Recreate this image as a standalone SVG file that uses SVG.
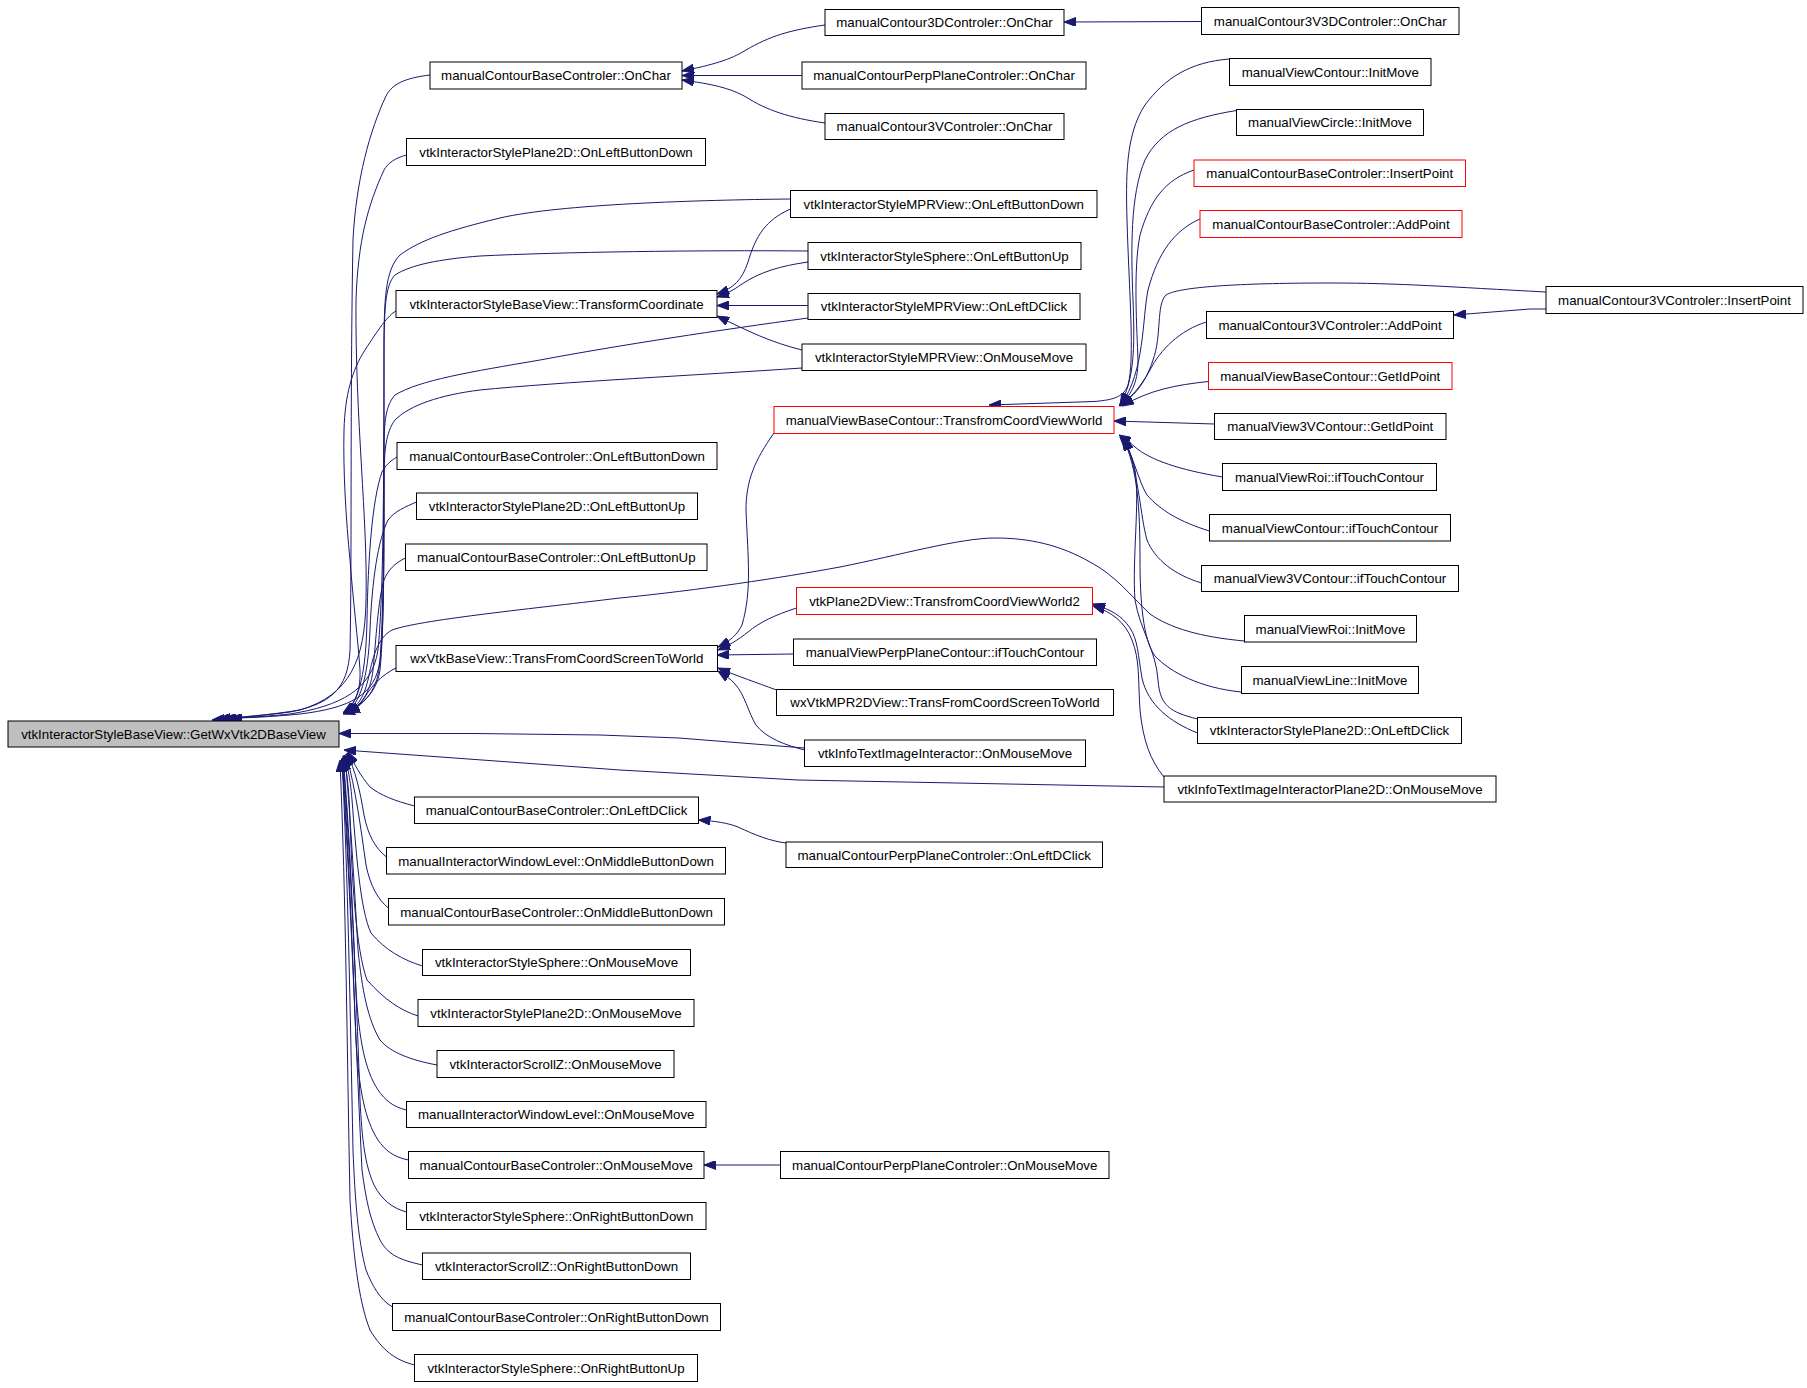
<svg xmlns="http://www.w3.org/2000/svg" width="1807" height="1388" viewBox="0 0 1807 1388">
<defs>
<marker id="ah" viewBox="0 0 12 9" refX="12" refY="4.5" markerWidth="12" markerHeight="9" markerUnits="userSpaceOnUse" orient="auto"><path d="M0,0 L12,4.5 L0,9 z" fill="#191970" stroke="#191970" stroke-width="1"/></marker>
</defs>
<style>
.n rect{fill:#ffffff;stroke:#000000;stroke-width:1}
.n.r rect{stroke:#ff0000}
.n.m rect{fill:#bfbfbf}
.n text{font-family:"Liberation Sans",Arial,sans-serif;font-size:13.3px;text-anchor:middle;fill:#000000}
.e path{fill:none;stroke:#191970;stroke-width:1;marker-end:url(#ah)}
</style>
<rect x="0" y="0" width="1807" height="1388" fill="#ffffff"/>
<g id="connectors" class="e">
<path d="M1201.5,21.5 L1064,22"/>
<path d="M825,25 C790,30 770,36 746,50 C730,60 712,65 682,71"/>
<path d="M802,75.5 L682,75.5"/>
<path d="M825,123 C790,118 766,110 746,97 C730,88 712,84 682,80"/>
<path d="M790.5,209 C766,220 756,235 748,262 C742,280 734,288 717,294"/>
<path d="M808,262 C780,266 760,272 742,284 C732,291 726,294 717,297"/>
<path d="M808,305.5 L717,305.5"/>
<path d="M802,350 C770,342 750,332 717,316"/>
<path d="M774,433 C755,460 746,480 746,510 C748,560 752,590 742,625 C737,635 730,641 718,647"/>
<path d="M796.5,608 C775,615 760,622 748,632 C738,640 728,646 718,650"/>
<path d="M793.5,654 L717,655"/>
<path d="M776.5,690 C755,682 740,677 718,668"/>
<path d="M804.5,750 C785,745 766,738 756,725 C748,712 745,695 735,684 C730,678 724,675 718,671"/>
<path d="M1546,309 L1530,309 L1454,315"/>
<path d="M1229.5,59 C1190,62 1165,78 1145,105 C1125,135 1126,180 1127,220 C1129,290 1135,360 1128,385 C1124,396 1115,400 1094,401.5 L989,405"/>
<path d="M1236.5,110.5 C1190,118 1160,130 1145,160 C1130,195 1131,250 1133,300 C1135,350 1134,380 1120,405"/>
<path d="M1194,170 C1165,180 1150,200 1140,235 C1133,270 1137,330 1138,360 C1138,385 1130,396 1119,406"/>
<path d="M1200,219 C1175,230 1158,252 1148,290 C1142,320 1145,370 1121,405"/>
<path d="M1546,292 C1450,287 1400,283 1330,283 C1250,283 1180,286 1166,295 C1156,305 1162,335 1153,360 C1145,385 1132,398 1120,405"/>
<path d="M1206.5,322 C1180,330 1160,350 1150,370 C1140,388 1130,398 1120,406"/>
<path d="M1208.5,381.5 C1175,385 1150,390 1122,406"/>
<path d="M1214.5,424 L1114,421"/>
<path d="M1222.5,477 C1180,470 1150,460 1135,447 C1128,441 1124,438 1119,435"/>
<path d="M1209.5,531 C1180,522 1160,510 1147,495 C1138,480 1135,460 1122,437"/>
<path d="M1201.5,583 C1175,575 1155,560 1147,540 C1140,515 1140,480 1125,438"/>
<path d="M1241.5,692 C1200,688 1170,672 1155,656 C1143,640 1140,600 1140,560 C1140,510 1138,470 1123,438"/>
<path d="M1197.5,719 C1170,712 1160,706 1158,680 C1156,650 1140,630 1135,600 C1132,560 1140,500 1135,470 C1132,455 1128,446 1120,437"/>
<path d="M1197.5,733 C1170,722 1148,705 1142,678 C1138,655 1138,640 1130,628 C1122,616 1112,610 1093,604"/>
<path d="M1164,777 C1150,760 1143,740 1140,710 C1138,680 1140,660 1132,640 C1125,622 1112,612 1093,606"/>
<path d="M430,75 C405,78 392,84 386,96 C370,130 356,180 353,240 C350,400 352,560 350,650 C348,690 330,704 290,712 C260,716 235,718 212,720"/>
<path d="M406.5,155 C395,158 388,163 384,170 C368,205 358,240 356,300 C355,420 368,520 366,600 C365,660 350,695 300,710 C270,715 240,717 218,719"/>
<path d="M790.5,199 C700,200 560,204 500,218 C450,230 420,240 400,255 C385,270 384,300 384,350 C384,500 383,600 378,650 C372,690 340,706 290,714 C260,717 240,718 224,718"/>
<path d="M808,251 C700,250 560,252 480,256 C440,259 410,265 395,275 C385,285 384,310 384,360 C384,500 384,610 380,660 C376,695 350,708 300,714 C270,717 245,718 230,718"/>
<path d="M808,318 C720,330 620,345 540,360 C470,372 420,380 395,395 C386,405 384,420 384,450 C384,560 384,630 380,670 C376,698 355,708 345,712"/>
<path d="M802,368 C700,375 560,382 480,390 C440,395 410,405 395,420 C386,432 384,450 384,480 C384,580 384,640 378,675 C372,700 355,710 343,714"/>
<path d="M396,311 C388,315 378,330 365,350 C352,370 345,395 344,430 C343,470 346,520 350,560 C353,600 358,640 360,670 C361,695 352,707 343,713"/>
<path d="M397,457 C390,461 385,466 382,472 C372,500 368,560 367,620 C366,670 360,700 345,714"/>
<path d="M416.5,502 C405,507 395,511 388,520 C378,540 372,580 370,630 C368,680 360,702 346,714"/>
<path d="M405.5,558 C395,563 388,570 384,580 C378,600 376,640 373,670 C370,695 360,706 347,713"/>
<path d="M396,668 C382,675 372,685 365,697 C360,705 355,710 348,713"/>
<path d="M1244.5,641 C1200,637 1170,628 1150,614 C1130,595 1115,575 1090,562 C1060,545 1030,538 995,538 C960,538 900,555 840,567 C780,578 700,590 620,598 C520,610 420,620 392,630 C377,638 372,660 368,680 C363,700 356,708 345,713"/>
<path d="M804.5,748 L679,738 L600,735 L474,733.5 L339,733.5"/>
<path d="M1164,787 L956,783 L798,780 L620,770 L344,750"/>
<path d="M414.5,806 C395,801 380,795 370,787 C360,775 355,765 348,752"/>
<path d="M386.5,857 C375,848 368,835 364,815 C360,790 355,770 347,753"/>
<path d="M388.5,908 C378,900 370,885 366,865 C361,830 356,790 346,754"/>
<path d="M422.5,966 C403,960 385,950 371,933 C360,910 356,850 352,800 C350,775 347,765 344,755"/>
<path d="M418,1016 C400,1010 385,1000 367,980 C356,950 352,880 350,820 C349,790 347,770 343,756"/>
<path d="M437,1065 C410,1060 390,1052 380,1040 C368,1020 362,990 358,950 C354,880 350,810 345,757"/>
<path d="M406.5,1110 C393,1107 385,1100 378,1090 C365,1070 359,1040 356,990 C352,900 349,820 343,758"/>
<path d="M408.5,1160 C393,1157 385,1150 378,1140 C365,1120 359,1090 356,1040 C352,940 348,830 342,758"/>
<path d="M406.5,1212 C392,1208 382,1200 374,1185 C365,1165 362,1140 360,1100 C356,980 350,850 343,759"/>
<path d="M422.5,1265 C400,1260 388,1255 380,1240 C370,1220 366,1200 362,1170 C356,1050 350,880 342,760"/>
<path d="M392.5,1307 C380,1300 372,1285 366,1270 C358,1240 355,1200 353,1150 C350,1000 348,880 342,760"/>
<path d="M414.5,1365 C395,1360 382,1350 370,1330 C358,1300 353,1250 350,1200 C347,1050 346,900 340,760"/>
<path d="M786,843 C770,841 755,835 738,827 C728,823 715,821 698.5,820"/>
<path d="M780.5,1165 L704,1165"/>
</g>
<g id="n_main" class="n m"><rect x="8" y="721" width="331" height="26"/><text x="173.5" y="738.7">vtkInteractorStyleBaseView::GetWxVtk2DBaseView</text></g>
<g id="a1" class="n"><rect x="430" y="62" width="252" height="27"/><text x="556" y="80.2">manualContourBaseControler::OnChar</text></g>
<g id="a2" class="n"><rect x="406.5" y="138.5" width="299" height="27"/><text x="556" y="156.7">vtkInteractorStylePlane2D::OnLeftButtonDown</text></g>
<g id="a3" class="n"><rect x="396" y="290.5" width="321" height="27"/><text x="556.5" y="308.7">vtkInteractorStyleBaseView::TransformCoordinate</text></g>
<g id="a4" class="n"><rect x="397" y="442.5" width="320" height="27"/><text x="557" y="460.7">manualContourBaseControler::OnLeftButtonDown</text></g>
<g id="a5" class="n"><rect x="416.5" y="493" width="281" height="26.5"/><text x="557" y="511">vtkInteractorStylePlane2D::OnLeftButtonUp</text></g>
<g id="a6" class="n"><rect x="405.5" y="544" width="301.5" height="26.5"/><text x="556.25" y="562">manualContourBaseControler::OnLeftButtonUp</text></g>
<g id="a7" class="n"><rect x="396" y="645.5" width="321.5" height="26"/><text x="556.75" y="663.2">wxVtkBaseView::TransFromCoordScreenToWorld</text></g>
<g id="a8" class="n"><rect x="414.5" y="797" width="284" height="26.5"/><text x="556.5" y="815">manualContourBaseControler::OnLeftDClick</text></g>
<g id="a9" class="n"><rect x="386.5" y="847.5" width="339" height="26.5"/><text x="556" y="865.5">manualInteractorWindowLevel::OnMiddleButtonDown</text></g>
<g id="a10" class="n"><rect x="388.5" y="898.5" width="336" height="26.5"/><text x="556.5" y="916.5">manualContourBaseControler::OnMiddleButtonDown</text></g>
<g id="a11" class="n"><rect x="422.5" y="949.5" width="268" height="26"/><text x="556.5" y="967.2">vtkInteractorStyleSphere::OnMouseMove</text></g>
<g id="a12" class="n"><rect x="418" y="999.5" width="276" height="27"/><text x="556" y="1017.7">vtkInteractorStylePlane2D::OnMouseMove</text></g>
<g id="a13" class="n"><rect x="437" y="1050.5" width="237" height="27"/><text x="555.5" y="1068.7">vtkInteractorScrollZ::OnMouseMove</text></g>
<g id="a14" class="n"><rect x="406.5" y="1101.5" width="299.5" height="26"/><text x="556.25" y="1119.2">manualInteractorWindowLevel::OnMouseMove</text></g>
<g id="a15" class="n"><rect x="408.5" y="1151.5" width="295.5" height="27"/><text x="556.25" y="1169.7">manualContourBaseControler::OnMouseMove</text></g>
<g id="a16" class="n"><rect x="406.5" y="1202.5" width="299.5" height="27"/><text x="556.25" y="1220.7">vtkInteractorStyleSphere::OnRightButtonDown</text></g>
<g id="a17" class="n"><rect x="422.5" y="1253" width="268" height="26.5"/><text x="556.5" y="1271">vtkInteractorScrollZ::OnRightButtonDown</text></g>
<g id="a18" class="n"><rect x="392.5" y="1303.5" width="328" height="27"/><text x="556.5" y="1321.7">manualContourBaseControler::OnRightButtonDown</text></g>
<g id="a19" class="n"><rect x="414.5" y="1354.5" width="283" height="27"/><text x="556" y="1372.7">vtkInteractorStyleSphere::OnRightButtonUp</text></g>
<g id="b1" class="n"><rect x="825" y="9.5" width="239" height="26"/><text x="944.5" y="27.2">manualContour3DControler::OnChar</text></g>
<g id="b2" class="n"><rect x="802" y="62" width="284" height="27"/><text x="944" y="80.2">manualContourPerpPlaneControler::OnChar</text></g>
<g id="b3" class="n"><rect x="825" y="113.5" width="239" height="26"/><text x="944.5" y="131.2">manualContour3VControler::OnChar</text></g>
<g id="b4" class="n"><rect x="790.5" y="190.5" width="306.5" height="27"/><text x="943.75" y="208.7">vtkInteractorStyleMPRView::OnLeftButtonDown</text></g>
<g id="b5" class="n"><rect x="808" y="242.5" width="273" height="27"/><text x="944.5" y="260.7">vtkInteractorStyleSphere::OnLeftButtonUp</text></g>
<g id="b6" class="n"><rect x="808" y="293.5" width="272" height="26"/><text x="944" y="311.2">vtkInteractorStyleMPRView::OnLeftDClick</text></g>
<g id="b7" class="n"><rect x="802" y="344" width="284" height="26.5"/><text x="944" y="362">vtkInteractorStyleMPRView::OnMouseMove</text></g>
<g id="b8" class="n r"><rect x="774" y="406.5" width="340" height="27"/><text x="944" y="424.7">manualViewBaseContour::TransfromCoordViewWorld</text></g>
<g id="b9" class="n r"><rect x="796.5" y="587.5" width="296" height="27"/><text x="944.5" y="605.7">vtkPlane2DView::TransfromCoordViewWorld2</text></g>
<g id="b10" class="n"><rect x="793.5" y="639" width="303" height="26.5"/><text x="945" y="657">manualViewPerpPlaneContour::ifTouchContour</text></g>
<g id="b11" class="n"><rect x="776.5" y="689.5" width="337" height="26"/><text x="945" y="707.2">wxVtkMPR2DView::TransFromCoordScreenToWorld</text></g>
<g id="b12" class="n"><rect x="804.5" y="740" width="281" height="26.5"/><text x="945" y="758">vtkInfoTextImageInteractor::OnMouseMove</text></g>
<g id="b13" class="n"><rect x="786" y="842" width="316.5" height="25.5"/><text x="944.25" y="859.5">manualContourPerpPlaneControler::OnLeftDClick</text></g>
<g id="b14" class="n"><rect x="780.5" y="1151.5" width="328.5" height="27"/><text x="944.75" y="1169.7">manualContourPerpPlaneControler::OnMouseMove</text></g>
<g id="c1" class="n"><rect x="1201.5" y="7.5" width="257.5" height="27"/><text x="1330.25" y="25.7">manualContour3V3DControler::OnChar</text></g>
<g id="c2" class="n"><rect x="1229.5" y="58.5" width="201.5" height="27"/><text x="1330.25" y="76.7">manualViewContour::InitMove</text></g>
<g id="c3" class="n"><rect x="1236.5" y="109.5" width="187" height="26"/><text x="1330" y="127.2">manualViewCircle::InitMove</text></g>
<g id="c4" class="n r"><rect x="1194" y="160" width="271.5" height="26.5"/><text x="1329.75" y="178">manualContourBaseControler::InsertPoint</text></g>
<g id="c5" class="n r"><rect x="1200" y="210.5" width="262" height="27"/><text x="1331" y="228.7">manualContourBaseControler::AddPoint</text></g>
<g id="c6" class="n"><rect x="1206.5" y="311.5" width="247" height="27"/><text x="1330" y="329.7">manualContour3VControler::AddPoint</text></g>
<g id="c7" class="n r"><rect x="1208.5" y="362.5" width="243.5" height="27"/><text x="1330.25" y="380.7">manualViewBaseContour::GetIdPoint</text></g>
<g id="c8" class="n"><rect x="1214.5" y="413.5" width="231.5" height="26"/><text x="1330.25" y="431.2">manualView3VContour::GetIdPoint</text></g>
<g id="c9" class="n"><rect x="1222.5" y="463.5" width="214" height="27"/><text x="1329.5" y="481.7">manualViewRoi::ifTouchContour</text></g>
<g id="c10" class="n"><rect x="1209.5" y="514.5" width="241" height="26.5"/><text x="1330" y="532.5">manualViewContour::ifTouchContour</text></g>
<g id="c11" class="n"><rect x="1201.5" y="565.5" width="257" height="26"/><text x="1330" y="583.2">manualView3VContour::ifTouchContour</text></g>
<g id="c12" class="n"><rect x="1244.5" y="615.5" width="172" height="26.5"/><text x="1330.5" y="633.5">manualViewRoi::InitMove</text></g>
<g id="c13" class="n"><rect x="1241.5" y="666.5" width="177" height="27"/><text x="1330" y="684.7">manualViewLine::InitMove</text></g>
<g id="c14" class="n"><rect x="1197.5" y="717.5" width="264" height="26"/><text x="1329.5" y="735.2">vtkInteractorStylePlane2D::OnLeftDClick</text></g>
<g id="c15" class="n"><rect x="1164" y="776" width="332" height="26"/><text x="1330" y="793.7">vtkInfoTextImageInteractorPlane2D::OnMouseMove</text></g>
<g id="d1" class="n"><rect x="1546" y="286.5" width="257" height="27"/><text x="1674.5" y="304.7">manualContour3VControler::InsertPoint</text></g>
</svg>
